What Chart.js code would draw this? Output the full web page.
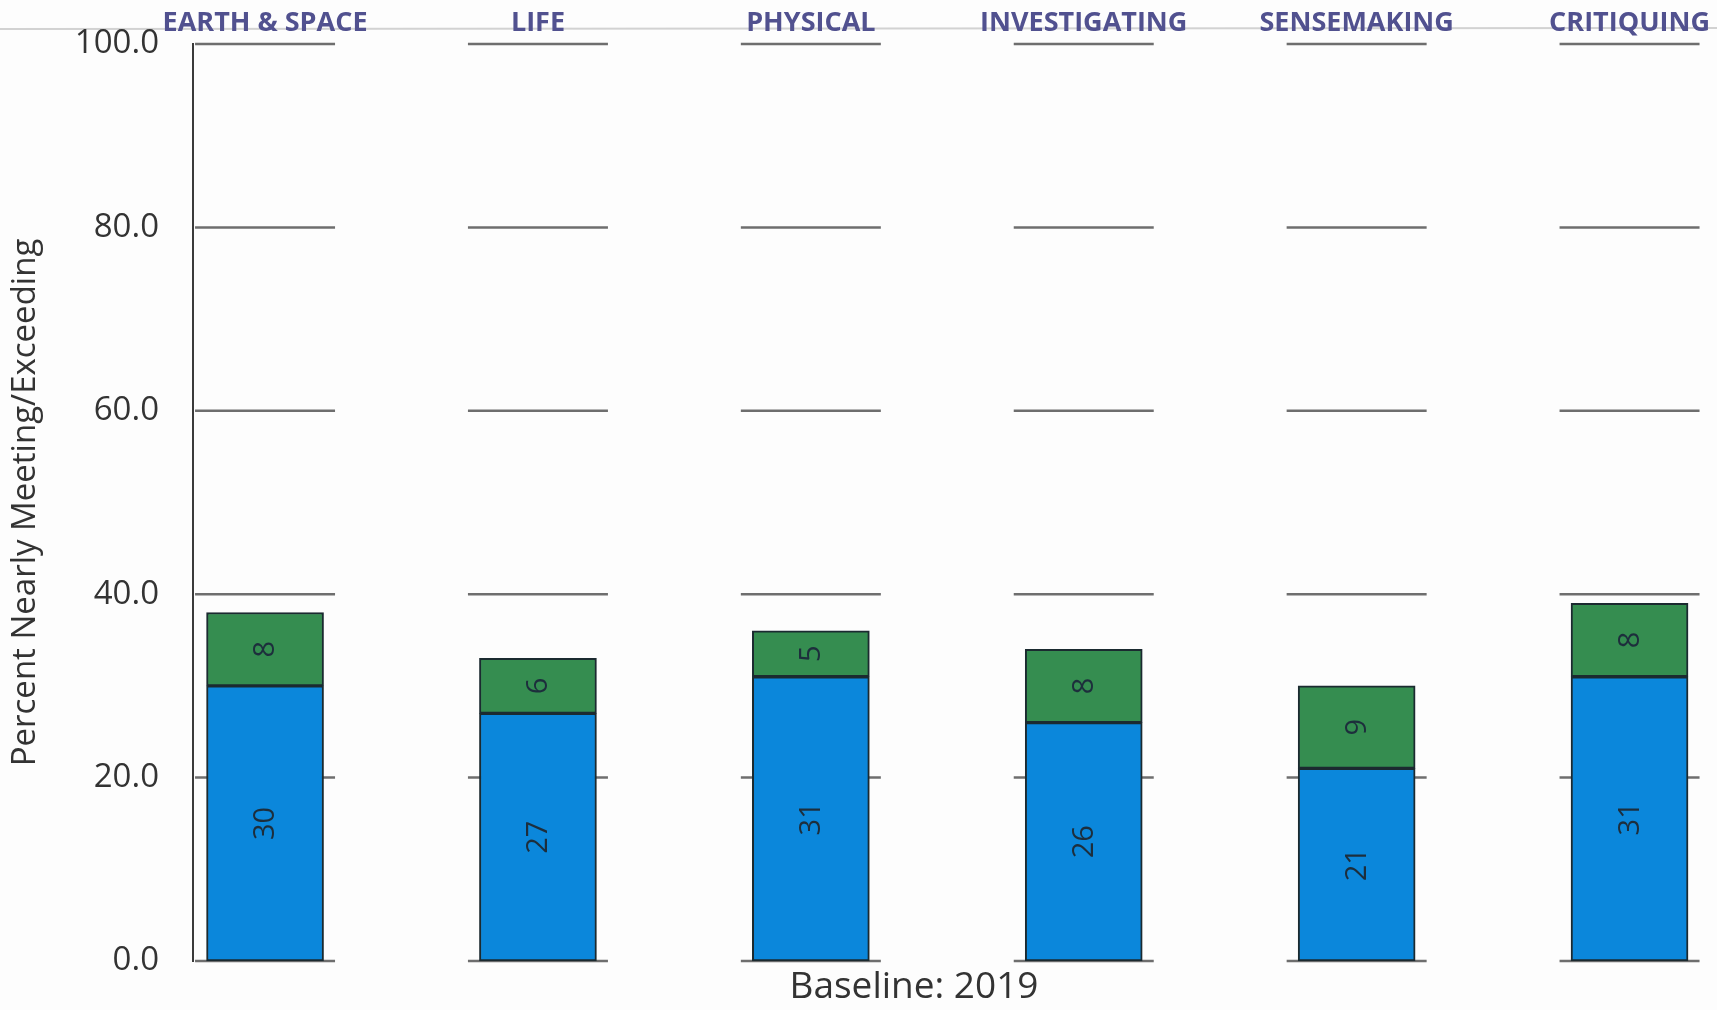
<!DOCTYPE html>
<html>
<head>
<meta charset="utf-8">
<script src="https://cdn.jsdelivr.net/npm/chart.js@4"></script>
<style>
  html, body { margin: 0; padding: 0; background: #fdfdfd; }
  #wrap { width: 1717px; height: 1010px; }
</style>
</head>
<body>
<div id="wrap"><canvas id="chart" width="1717" height="1010"></canvas></div>
<script>
const categories = ["EARTH & SPACE", "LIFE", "PHYSICAL", "INVESTIGATING", "SENSEMAKING", "CRITIQUING"]
const meeting = [30, 27, 31, 26, 21, 31]
const nearlyMeeting = [8, 6, 5, 8, 9, 8]
const yTicks = [0, 20, 40, 60, 80, 100]

const blue = "#0b87db"
const green = "#358d50"
const xMin = -0.264
const xMax = 5.02

// short grid segments under each column, plus labels inside the bars
const columnPlugin = {
  id: "columns",
  beforeDraw(chart) {
    const { ctx, width, chartArea } = chart
    ctx.save()
    ctx.strokeStyle = "#d2d2d2"
    ctx.lineWidth = 2
    ctx.beginPath()
    ctx.moveTo(0, chartArea.top - 15)
    ctx.lineTo(width, chartArea.top - 16)
    ctx.stroke()
    ctx.restore()
  },
  beforeDatasetsDraw(chart) {
    const { ctx, scales } = chart
    ctx.save()
    ctx.strokeStyle = "#6e6e6e"
    ctx.lineWidth = 2.5
    categories.forEach((c, i) => {
      const cx = scales.x.getPixelForValue(i)
      yTicks.forEach((t) => {
        const y = scales.y.getPixelForValue(t)
        ctx.beginPath()
        ctx.moveTo(cx - 70, y)
        ctx.lineTo(cx + 70, y)
        ctx.stroke()
      })
    })
    ctx.restore()
  },
  afterDatasetsDraw(chart) {
    const { ctx } = chart
    ctx.save()
    ctx.fillStyle = "#1d2e3c"
    ctx.font = "29px 'Open Sans', sans-serif"
    ctx.textAlign = "center"
    ctx.textBaseline = "middle"
    chart.data.datasets.forEach((ds, d) => {
      chart.getDatasetMeta(d).data.forEach((bar, i) => {
        const cy = (bar.y + bar.base) / 2
        ctx.save()
        ctx.translate(bar.x, cy)
        ctx.rotate(-Math.PI / 2)
        ctx.fillText(String(ds.data[i].y), 0, 1)
        ctx.restore()
      })
    })
    ctx.restore()
  },
}

const toPoints = (values) => values.map((v, i) => ({ x: i, y: v }))

new Chart(document.getElementById("chart"), {
  type: "bar",
  data: {
    datasets: [
      {
        label: "Meeting/Exceeding",
        data: toPoints(meeting),
        backgroundColor: blue,
        borderColor: "#1b2a30",
        borderWidth: 2,
        borderSkipped: false,
        barThickness: 117,
        clip: false,
      },
      {
        label: "Nearly Meeting",
        data: toPoints(nearlyMeeting),
        backgroundColor: green,
        borderColor: "#1b2a30",
        borderWidth: 2,
        borderSkipped: false,
        barThickness: 117,
        clip: false,
      },
    ],
  },
  options: {
    responsive: false,
    animation: false,
    layout: { padding: { left: 0, right: 82, top: 0, bottom: 0 } },
    plugins: {
      legend: { display: false },
      tooltip: { enabled: false },
    },
    scales: {
      x: {
        type: "linear",
        stacked: true,
        offset: false,
        min: xMin,
        max: xMax,
        grid: { display: false, offset: false },
        border: { display: false },
        ticks: { display: false },
        title: {
          display: true,
          text: "Baseline: 2019",
          color: "#333",
          font: { family: "'Open Sans', sans-serif", size: 37 },
          padding: { top: 0, bottom: 0 },
        },
        afterFit: (scale) => { scale.height = 49 },
      },
      xTop: {
        type: "linear",
        position: "top",
        offset: false,
        min: xMin,
        max: xMax,
        grid: { display: false, drawTicks: false },
        border: { display: false },
        afterBuildTicks: (scale) => { scale.ticks = categories.map((c, i) => ({ value: i })) },
        afterFit: (scale) => { scale.height = 44 },
        ticks: {
          autoSkip: false,
          maxRotation: 0,
          padding: 4,
          color: "#51518f",
          font: { family: "'Open Sans', sans-serif", size: 27, weight: "bold" },
          callback: (value) => categories[value],
        },
      },
      y: {
        stacked: true,
        min: 0,
        max: 100,
        afterBuildTicks: (scale) => { scale.ticks = yTicks.map((v) => ({ value: v })) },
        afterFit: (scale) => {
          scale.width = 193
          scale.paddingTop = 0
          scale.paddingBottom = 0
        },
        grid: { display: false, drawTicks: false },
        border: { display: true, color: "#3a3a3a", width: 2 },
        ticks: {
          padding: 34,
          color: "#333",
          font: { family: "'Open Sans', sans-serif", size: 33 },
          callback: (value) => value.toFixed(1),
        },
        title: {
          display: true,
          text: "Percent Nearly Meeting/Exceeding",
          color: "#333",
          font: { family: "'Open Sans', sans-serif", size: 33 },
          padding: { top: 6, bottom: 0 },
        },
      },
    },
  },
  plugins: [columnPlugin],
})
</script>
</body>
</html>
